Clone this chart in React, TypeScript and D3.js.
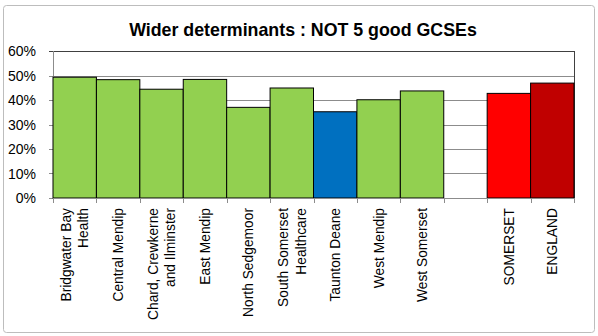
import * as d3 from "d3";

const categories = [
  ["Bridgwater Bay", "Health"],
  ["Central Mendip"],
  ["Chard, Crewkerne", "and Ilminster"],
  ["East Mendip"],
  ["North Sedgemoor"],
  ["South Somerset", "Healthcare"],
  ["Taunton Deane"],
  ["West Mendip"],
  ["West Somerset"],
  [""],
  ["SOMERSET"],
  ["ENGLAND"],
];
const values = [0.493, 0.483, 0.444, 0.484, 0.37, 0.449, 0.352, 0.401, 0.437, null, 0.427, 0.469];
const colors = ["#92D050", "#92D050", "#92D050", "#92D050", "#92D050", "#92D050", "#0070C0", "#92D050", "#92D050", "none", "#FF0000", "#C00000"];
const yTicks = [0, 0.1, 0.2, 0.3, 0.4, 0.5, 0.6];

const width = 598;
const height = 336;
const left = 53;
const right = 574;
const top = 51;
const bottom = 198;
const font = "Liberation Sans, Arial, sans-serif";

export default function App() {
  const keys = categories.map((_, i) => String(i));
  const x = d3.scaleBand(keys, [left, right]).padding(0);
  const y = d3.scaleLinear([0, 0.6], [bottom, top]);
  const fmt = d3.format(".0%");

  return (
    <svg width={width} height={height} style={{ position: "absolute", left: 0, top: 0 }}>
      <rect x={0} y={0} width={width} height={height} fill="#fff" />
      <rect x={3.5} y={5.5} width={591} height={327} rx={3} fill="#fff" stroke="#bdbdbd" />
      <text x={303} y={36} textAnchor="middle" fontFamily={font} fontWeight="bold" fontSize={17.8}>
        Wider determinants : NOT 5 good GCSEs
      </text>

      {yTicks.map((t) => (
        <g key={t}>
          <line x1={left - 4} x2={right} y1={Math.round(y(t)) + 0.5} y2={Math.round(y(t)) + 0.5}
            stroke={t === 0.6 ? "#404040" : "#8c8c8c"} />
          <text x={36} y={y(t) + 5} textAnchor="end" fontFamily={font} fontSize={14}>
            {fmt(t)}
          </text>
        </g>
      ))}
      <line x1={left + 0.5} x2={left + 0.5} y1={top} y2={bottom} stroke="#8c8c8c" />
      <line x1={right + 0.5} x2={right + 0.5} y1={top} y2={bottom} stroke="#404040" />

      {values.map((v, i) =>
        v == null ? null : (
          <rect key={i} x={x(String(i))!} y={y(v)} width={x.bandwidth()} height={bottom - y(v)}
            fill={colors[i]} stroke="#000" strokeWidth={1} />
        )
      )}

      <line x1={left} x2={right} y1={bottom + 0.5} y2={bottom + 0.5} stroke="#8c8c8c" />
      {d3.range(categories.length + 1).map((i) => {
        const xx = Math.round(left + i * x.step()) + 0.5;
        return <line key={i} x1={xx} x2={xx} y1={bottom} y2={bottom + 5} stroke="#8c8c8c" />;
      })}

      {categories.map((lines, i) => {
        const cx = x(String(i))! + x.bandwidth() / 2;
        const lh = 17.5;
        return lines.map((ln, j) => {
          const lx = cx + (j - (lines.length - 1) / 2) * lh + 5;
          return (
            <text key={i + "-" + j} transform={`translate(${lx},${bottom + 10}) rotate(-90)`}
              textAnchor="end" fontFamily={font} fontSize={13.8}>
              {ln}
            </text>
          );
        });
      })}
    </svg>
  );
}
